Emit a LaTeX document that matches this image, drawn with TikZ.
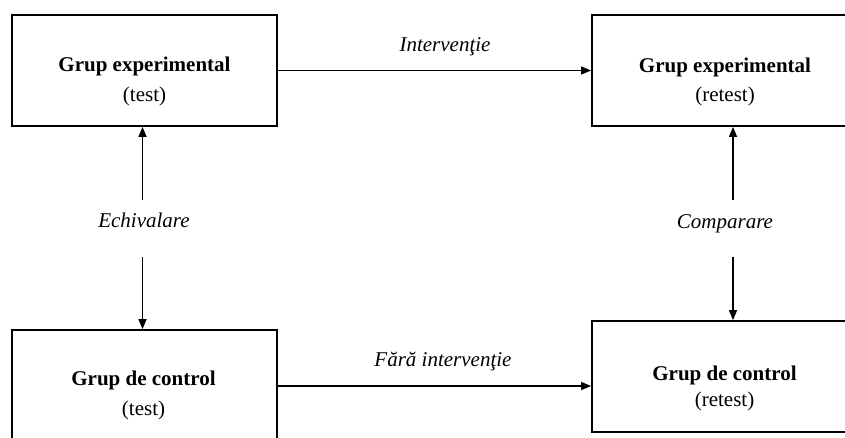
\documentclass[tikz,border=0pt]{standalone}
\usepackage{fontspec}
\setmainfont{Liberation Serif}
\usetikzlibrary{arrows.meta}
\tikzset{
  box/.style={draw=black, line width=1.8pt, minimum width=265pt, minimum height=111pt, inner sep=0pt},
  arr/.style={line width=1.3pt, -{Triangle[length=10pt,width=8pt]}},
  ttl/.style={anchor=base, inner sep=0pt, font=\fontsize{21}{25}\selectfont\bfseries},
  sub/.style={anchor=base, inner sep=0pt, font=\fontsize{21}{25}\selectfont},
  lbl/.style={anchor=base, inner sep=0pt, font=\fontsize{21}{25}\selectfont\itshape}
}
\begin{document}
\begin{tikzpicture}[x=1pt, y=-1pt]
\useasboundingbox (0,0) rectangle (845,437);
\clip (0,0) rectangle (845,437);
% boxes
\node[box] (e1) at (144.5,70.5) {};
\node[box, minimum width=266pt] (e2) at (725,70.5) {};
\node[box] (c1) at (144.5,385.5) {};
\node[box, minimum width=266pt] (c2) at (725,376.5) {};
% box texts
\node[ttl] (e1t) at (144.5,71) {Grup experimental};
\node[sub] (e1s) at (144.5,101) {(test)};
\node[ttl] (e2t) at (725,72.5) {Grup experimental};
\node[sub] (e2s) at (725,101) {(retest)};
\node[ttl] (c1t) at (143.5,385.5) {Grup de control};
\node[sub] (c1s) at (143.5,415.5) {(test)};
\node[ttl] (c2t) at (724.5,380) {Grup de control};
\node[sub] (c2s) at (724.5,406) {(retest)};
% labels
\node[lbl] (lint) at (445,51) {Intervenţie};
\node[lbl] (lfara) at (443,366) {Fără intervenţie};
\node[lbl] (lech) at (144,227) {Echivalare};
\node[lbl] (lcmp) at (725,228) {Comparare};
% connector ends
\coordinate (eqTop) at (142.5,200);
\coordinate (eqBot) at (142.5,257);
\coordinate (cmTop) at (733,200);
\coordinate (cmBot) at (733,257);
\coordinate (botStart) at (277,386);
% connectors
\draw[arr] (e1) -- (e2);
\draw[arr] (botStart) -- (botStart -| c2.west);
\draw[arr] (eqTop) -- (eqTop |- e1.south);
\draw[arr] (eqBot) -- (eqBot |- c1.north);
\draw[arr] (cmTop) -- (cmTop |- e2.south);
\draw[arr] (cmBot) -- (cmBot |- c2.north);
\end{tikzpicture}
\end{document}
